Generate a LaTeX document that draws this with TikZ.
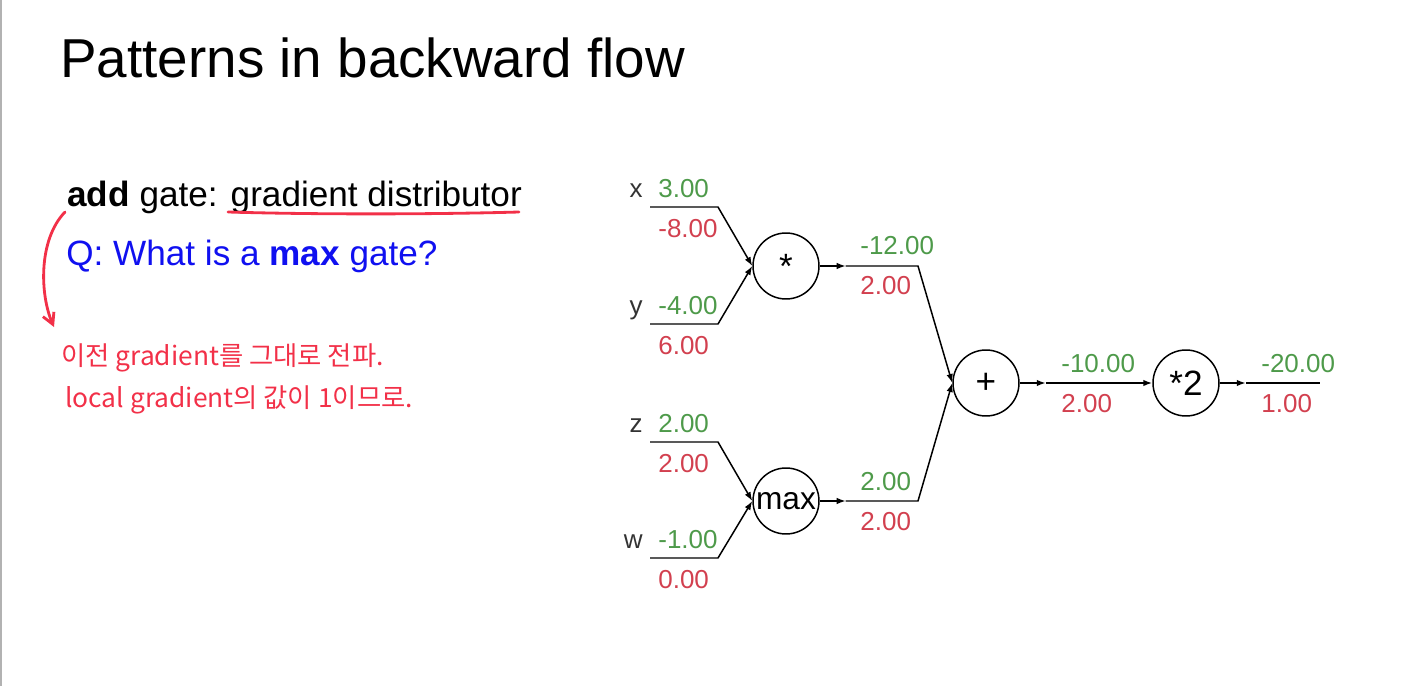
\documentclass[tikz,border=0pt]{standalone}
\usepackage{fontspec}
\setmainfont{Liberation Sans}
\newfontfamily\krfont{Noto Sans CJK KR}
\usetikzlibrary{arrows.meta}
\definecolor{valgreen}{HTML}{4E9A4A}
\definecolor{gradred}{HTML}{D2404F}
\definecolor{penred}{HTML}{F23048}
\definecolor{qblue}{HTML}{1010F0}
\definecolor{namegray}{HTML}{333333}
\tikzset{
  gate/.style={draw,circle,line width=.85pt,minimum size=1.32cm,inner sep=0pt,font=\fontsize{20}{24}\selectfont},
  wire/.style={line width=.85pt},
  flow/.style={-{Latex[length=1.8mm,width=1.3mm]},line width=.85pt},
  val/.style={anchor=base west,inner sep=0pt,text=valgreen,font=\fontsize{14.8}{17}\selectfont},
  grad/.style={anchor=base west,inner sep=0pt,text=gradred,font=\fontsize{14.8}{17}\selectfont},
  varname/.style={anchor=base east,inner sep=0pt,text=namegray,font=\fontsize{14.8}{17}\selectfont},
  pen/.style={draw=penred,line width=1.6pt,line cap=round},
  hand/.style={anchor=west,inner sep=0pt,text=penred,font=\krfont\fontsize{15}{18}\selectfont},
}

\begin{document}
\begin{tikzpicture}[x=.02cm,y=-.02cm]
  \useasboundingbox (0,0) rectangle (1404,686);
  \draw[gray!60,line width=1.2pt] (1,0) -- (1,686);
  % title and text
  \node[anchor=base west,inner sep=0pt,font=\fontsize{31.2}{37}\selectfont] (title) at (60,78) {Patterns in backward flow};
  \node[anchor=base west,inner sep=0pt,font=\fontsize{20}{24}\selectfont] (addgate) at (67,207) {\textbf{add} gate: gradient distributor};
  \node[anchor=base west,inner sep=0pt,text=qblue,font=\fontsize{20}{24}\selectfont] (question) at (66,265) {Q: What is a \textbf{max} gate?};
  % notes
  \draw[pen] (228,212) .. controls (330,215) and (450,214) .. (519,212);
  \coordinate (penstart) at (65,212);
  \coordinate (penend) at (54,327);
  \draw[pen,-{Straight Barb[length=2.2mm,width=2.4mm]}] (penstart) .. controls (38,240) and (40,295) .. (penend);
  \node[hand] (note1) at (61,358) {이전 gradient를 그대로 전파.};
  \node[hand] (note2) at (65,400) {local gradient의 값이 1이므로.};
  % gates
  \node[gate] (mul) at (786,266) {\raisebox{-.2em}{*}};
  \node[gate,font=\fontsize{18}{22}\selectfont] (max) at (786,501) {max};
  \node[gate] (add) at (986,383) {+};
  \node[gate] (dbl) at (1186,383) {*2};
  % inputs
  \foreach \nm/\yy/\vv/\gg/\gt in {x/207/3.00/-8.00/mul,y/324/-4.00/6.00/mul,z/442/2.00/2.00/max,w/558/-1.00/0.00/max}{
    \coordinate (\nm0) at (650,\yy);
    \coordinate (\nm1) at (718,\yy);
    \draw[flow] (\nm0) -- (\nm1) -- (\gt.west);
    \node[varname] (\nm-name) at (643,\yy-10) {\nm};
    \node[val] (\nm-val) at (658,\yy-10) {\vv};
    \node[grad] (\nm-grad) at (658,\yy+30) {\gg};
  }
  % outputs
  \foreach \gt/\xx/\yy/\vv/\gg in {mul/860/266/-12.00/2.00,max/860/501/2.00/2.00,add/1061/383/-10.00/2.00,dbl/1261/383/-20.00/1.00}{
    \draw[flow] (\gt.east) -- ++(26,0) coordinate (\gt-out);
    \node[val] (\gt-val) at (\xx,\yy-11) {\vv};
    \node[grad] (\gt-grad) at (\xx,\yy+29) {\gg};
  }
  \coordinate (mulbend) at (918,266);
  \coordinate (maxbend) at (918,501);
  \coordinate (end) at (1320,383);
  \draw[flow] (mul-out) -- (mulbend) -- (add.west);
  \draw[flow] (max-out) -- (maxbend) -- (add.west);
  \draw[flow] (add-out) -- (dbl.west);
  \draw[wire] (dbl-out) -- (end);
\end{tikzpicture}
\end{document}
